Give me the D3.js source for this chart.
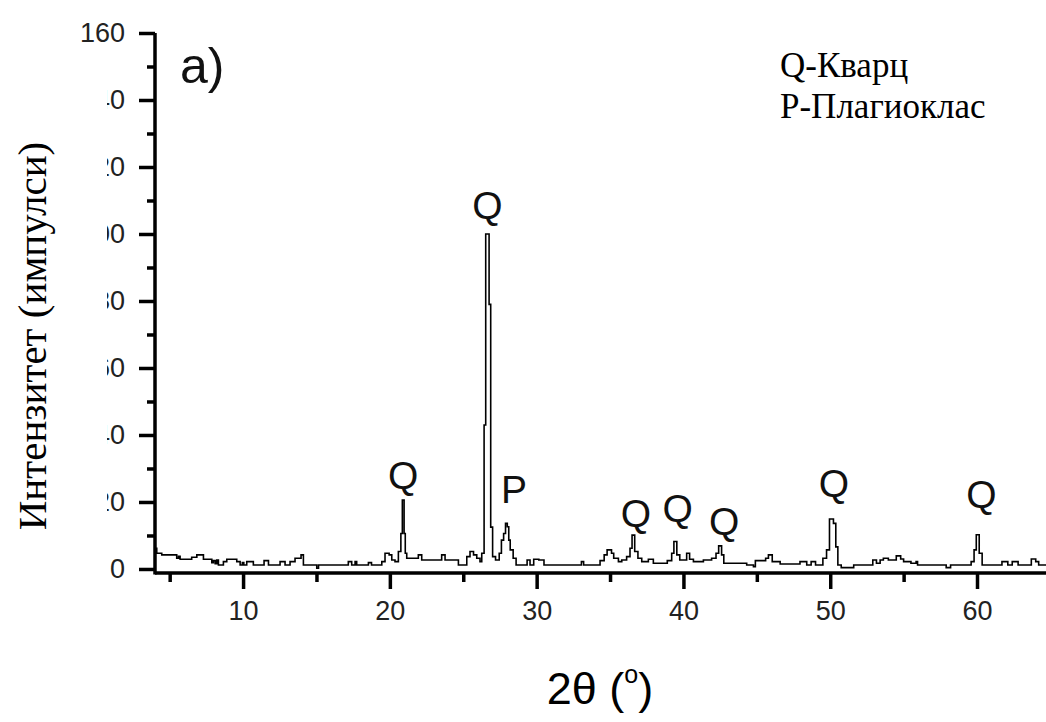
<!DOCTYPE html>
<html><head><meta charset="utf-8">
<script src="https://cdn.jsdelivr.net/npm/d3@7"></script>
<style>body{margin:0;background:#fff}svg{display:block}</style>
</head><body><svg id="c" width="1046" height="722"></svg>
<script>
const xTicks=[10,20,30,40,50,60];
const xMinorTicks=[5,15,25,35,45,55,65];
const yTicks=[0,20,40,60,80,100,120,140,160];
const yMinorTicks=[10,30,50,70,90,110,130,150];
const twoTheta=[4.0,4.12,4.46,5.48,5.6,5.71,6.5,6.85,7.3,7.87,7.98,8.1,8.21,8.32,8.66,8.89,9.57,9.8,9.95,10.05,10.25,10.7,11.43,11.73,12.52,12.86,13.2,13.54,13.95,14.11,15.02,15.14,17.17,17.4,17.63,17.74,18.54,18.75,19.45,19.67,19.95,20.13,20.35,20.58,20.75,20.85,20.97,21.05,21.15,21.94,22.17,23.53,23.76,24.67,25.24,25.46,25.7,25.92,26.14,26.26,26.42,26.53,26.76,26.87,27.0,27.2,27.45,27.6,27.75,27.88,28.0,28.1,28.2,28.4,28.6,29.35,29.55,29.8,30.15,30.5,33.05,33.2,34.32,34.6,34.8,35.1,35.25,35.57,35.8,36.13,36.36,36.5,36.68,36.9,37.16,37.61,37.95,38.9,39.2,39.35,39.55,39.75,40.22,40.42,40.68,41.36,41.92,42.22,42.4,42.6,42.75,44.31,44.77,44.9,45.6,45.79,46.05,46.59,47.94,48.4,48.7,49.0,49.5,49.75,49.95,50.22,50.38,50.52,50.75,51.6,52.9,53.15,53.4,53.62,53.96,54.5,54.8,55.0,55.5,55.85,55.95,57.9,58.2,59.6,59.8,59.95,60.15,60.35,61.7,62.1,62.4,62.8,63.7,64.0,64.2,65.0];
const intensity=[6.2,4.7,4.2,3.2,3.8,2.9,3.5,4.2,2.9,1.9,2.5,1.6,2.7,1.2,2.2,2.9,2.2,1.2,1.9,1.2,2.2,1.2,2.5,1.2,2.2,1.2,2.2,3.2,4.2,1.2,0.2,1.2,2.2,1.2,2.2,1.2,1.9,1.2,2.2,4.7,4.2,2.7,2.2,5.2,10.6,20.6,10.6,4.7,3.2,4.2,2.7,4.2,2.7,1.2,3.7,5.2,4.2,3.2,2.2,4.7,43,100,79,12.5,3.7,2.7,4.7,8.6,10.6,13.6,12.6,8.6,5.7,3.2,1.2,2.7,1.2,2.9,2.7,1.2,2.2,1.2,2.5,4.2,5.7,4.7,3.2,2.2,2.7,3.7,6.2,10.1,5.2,3.2,2.2,2.9,1.7,2.5,4.7,8.2,4.2,2.7,4.7,2.9,2.2,2.7,3.2,4.7,6.9,4.2,1.7,1.2,0.7,2.5,3.2,4.2,2.2,1.5,2.2,1.2,2.2,1.2,3.2,5.7,14.9,13.6,6.6,1.2,0.4,1.2,2.7,1.7,2.7,3.2,2.7,3.9,3.0,2.2,1.7,2.2,1.2,0.4,1.2,2.2,5.7,10.2,4.7,1.2,2.2,1.2,2.2,1.2,3.0,2.2,1.2,1.2];
const peakLabels=["Q","Q","P","Q","Q","Q","Q","Q"];
const peakLabelX=[20.9,26.65,28.46,36.77,39.6,42.77,50.26,60.3];
const peakLabelY=[23.9,104.5,19.7,12.5,14.0,10.1,21.5,18.2];
const legendLines=["Q-Кварц","P-Плагиоклас"];
const panelLabel="a)";
const yTitle="Интензитет (импулси)";

const svg=d3.select("#c");
const x=d3.scaleLinear().domain([4,65]).range([155,1050.4]);
const y=d3.scaleLinear().domain([-1.2,160]).range([573,33]);

// data line
const pts=twoTheta.map((t,i)=>[t,intensity[i]]);
svg.append("path").datum(pts)
  .attr("d",d3.line().x(d=>x(d[0])).y(d=>y(d[1])).curve(d3.curveStepAfter))
  .attr("fill","none").attr("stroke","#000").attr("stroke-width",1.6);

// x axis
const gx=svg.append("g").attr("transform","translate(0,573)");
gx.call(d3.axisBottom(x).tickValues(xTicks).tickSize(16).tickSizeOuter(0).tickPadding(12).tickFormat(d3.format("d")));
gx.select(".domain").remove();
gx.selectAll(".tick line").attr("stroke-width",3.5);
gx.selectAll(".tick text").attr("font-family","Liberation Sans, Arial, sans-serif").attr("font-size",27).attr("fill","#222");
const gxm=svg.append("g").attr("transform","translate(0,573)");
gxm.call(d3.axisBottom(x).tickValues(xMinorTicks).tickSize(9).tickSizeOuter(0).tickFormat(""));
gxm.select(".domain").remove();
gxm.selectAll(".tick line").attr("stroke-width",3.5);

// y axis
const gy=svg.append("g").attr("transform","translate(155,0)");
gy.call(d3.axisLeft(y).tickValues(yTicks).tickSize(16).tickSizeOuter(0).tickPadding(14).tickFormat(d3.format("d")));
gy.select(".domain").remove();
gy.selectAll(".tick line").attr("stroke-width",3.5);
gy.selectAll(".tick text").attr("font-family","Liberation Sans, Arial, sans-serif").attr("font-size",27).attr("fill","#222");
const gym=svg.append("g").attr("transform","translate(155,0)");
gym.call(d3.axisLeft(y).tickValues(yMinorTicks).tickSize(8).tickSizeOuter(0).tickFormat(""));
gym.select(".domain").remove();
gym.selectAll(".tick line").attr("stroke-width",3.5);

// axis lines
svg.append("line").attr("x1",155).attr("x2",1046).attr("y1",573).attr("y2",573).attr("stroke","#000").attr("stroke-width",3.5);
svg.append("line").attr("x1",155).attr("x2",155).attr("y1",y(160)).attr("y2",574.5).attr("stroke","#000").attr("stroke-width",3.5);

// y title with white box
svg.append("rect").attr("x",0).attr("y",50).attr("width",107).attr("height",490).attr("fill","#fff");
svg.append("text").attr("transform","translate(46,336) rotate(-90)").attr("text-anchor","middle")
  .attr("font-family","Liberation Serif, Times New Roman, serif").attr("font-size",41).attr("fill","#000").text(yTitle);

// x title
const xt=svg.append("text").attr("x",600).attr("y",704).attr("text-anchor","middle")
  .attr("font-family","Liberation Sans, Arial, sans-serif").attr("font-size",45).attr("fill","#000");
xt.append("tspan").text("2θ (");
xt.append("tspan").attr("font-size",25).attr("dy",-21).text("o");
xt.append("tspan").attr("dy",21).text(")");

// panel label
svg.append("text").attr("x",180).attr("y",83).attr("font-family","Liberation Sans, Arial, sans-serif").attr("font-size",50).attr("fill","#111").text(panelLabel);

// peak labels
svg.append("g").selectAll("text").data(peakLabels).join("text")
  .attr("x",(d,i)=>x(peakLabelX[i])).attr("y",(d,i)=>y(peakLabelY[i]))
  .attr("text-anchor","middle").attr("font-family","Liberation Sans, Arial, sans-serif")
  .attr("font-size",39).attr("fill","#111").text(d=>d);

// legend
svg.append("g").selectAll("text").data(legendLines).join("text")
  .attr("x",780).attr("y",(d,i)=>77+i*41)
  .attr("font-family","Liberation Serif, Times New Roman, serif").attr("font-size",35).attr("fill","#000").text(d=>d);
</script></body></html>
